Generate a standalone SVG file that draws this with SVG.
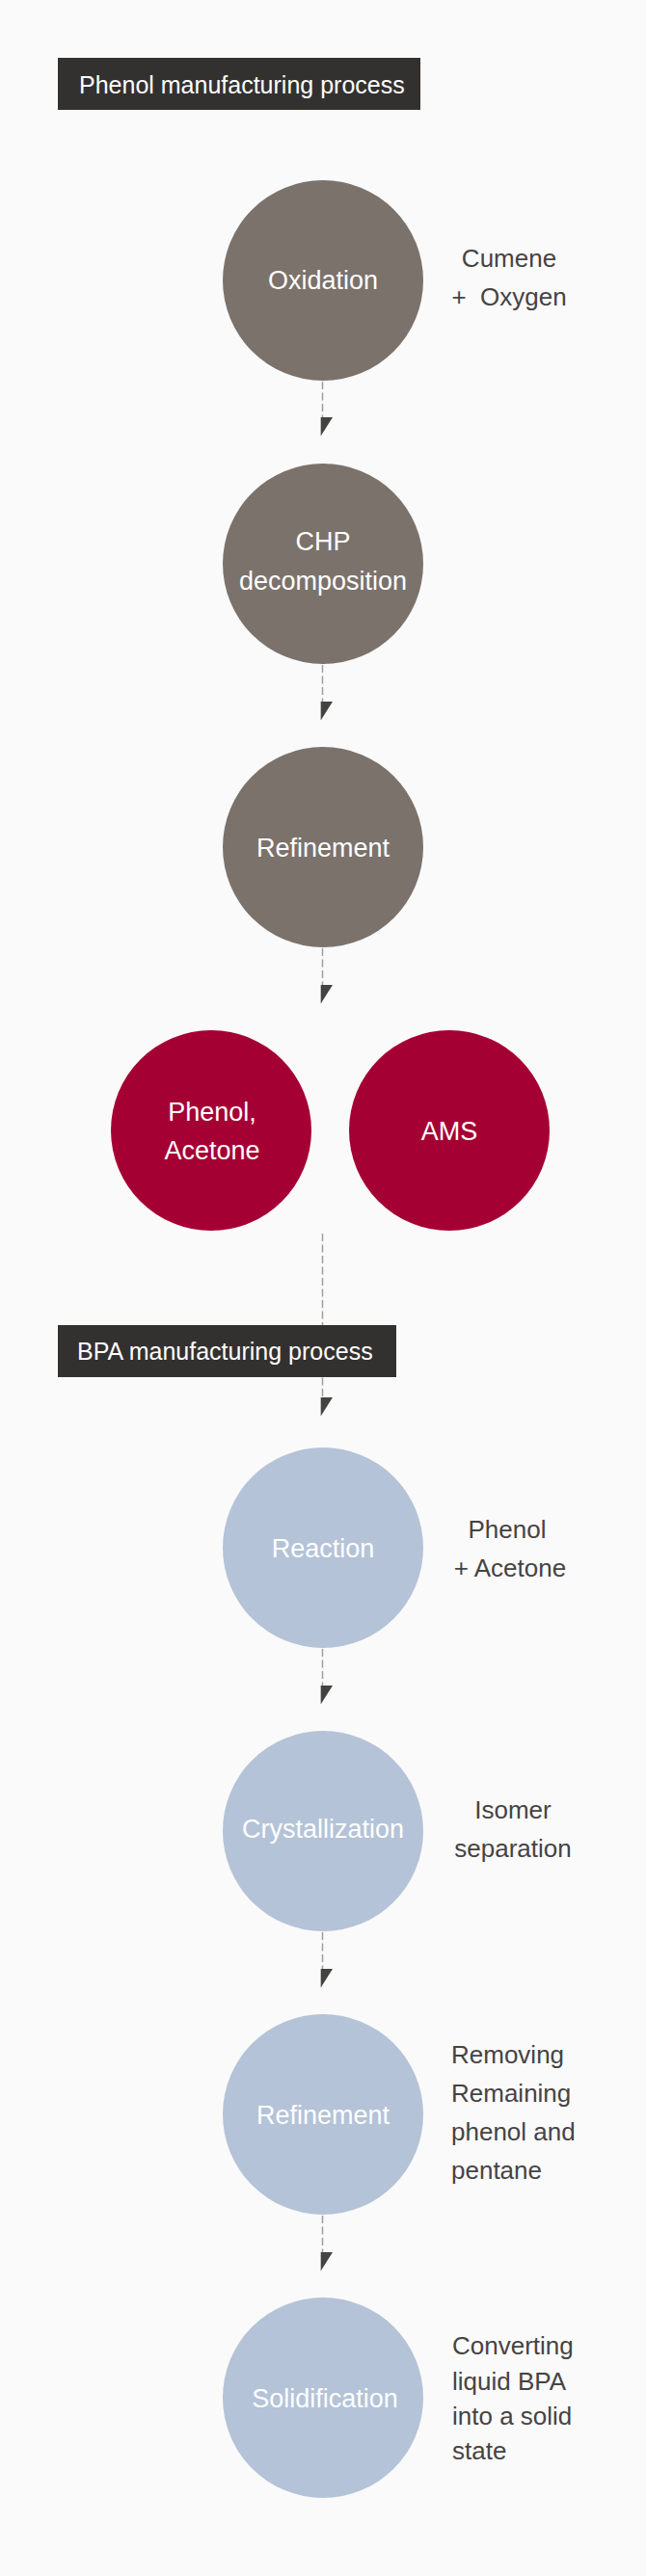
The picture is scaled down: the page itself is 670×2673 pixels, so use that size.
<svg xmlns="http://www.w3.org/2000/svg" width="670" height="2673" viewBox="0 0 670 2673">
<style>
.bg{fill:#fafafa}
.hdr{fill:#333130}
.hdrt{font-family:"Liberation Sans",Arial,sans-serif;font-size:25px;fill:#ffffff}
.gray{fill:#7b726c}
.red{fill:#a50034}
.blue{fill:#b4c3d7}
.ct{font-family:"Liberation Sans",Arial,sans-serif;font-size:27px;fill:#ffffff;text-anchor:middle}
.lbl{font-family:"Liberation Sans",Arial,sans-serif;font-size:26px;fill:#464343}
.mid{text-anchor:middle}
.dash{stroke:#a39c9a;stroke-width:1.5;stroke-dasharray:8 3.5;fill:none}
.ah{fill:#454342}
</style>
<defs>
<path id="ah" d="M0,0 L12.3,0 L0,19.5 Z"/>
</defs>
<rect class="bg" x="0" y="0" width="670" height="2673"/>
<g id="connectors">
<line class="dash" x1="334.5" y1="396" x2="334.5" y2="433"/>
<use href="#ah" class="ah" x="332.7" y="433"/>
<line class="dash" x1="334.5" y1="690" x2="334.5" y2="728"/>
<use href="#ah" class="ah" x="332.7" y="728"/>
<line class="dash" x1="334.5" y1="984" x2="334.5" y2="1022"/>
<use href="#ah" class="ah" x="332.7" y="1022"/>
<line class="dash" x1="334.5" y1="1280" x2="334.5" y2="1450"/>
<use href="#ah" class="ah" x="332.7" y="1450"/>
<line class="dash" x1="334.5" y1="1711" x2="334.5" y2="1749"/>
<use href="#ah" class="ah" x="332.7" y="1749"/>
<line class="dash" x1="334.5" y1="2005" x2="334.5" y2="2043"/>
<use href="#ah" class="ah" x="332.7" y="2043"/>
<line class="dash" x1="334.5" y1="2299" x2="334.5" y2="2337"/>
<use href="#ah" class="ah" x="332.7" y="2337"/>
</g>
<g id="header-phenol">
<rect class="hdr" x="60" y="60" width="376" height="54"/>
<text class="hdrt" x="82" y="97">Phenol manufacturing process</text>
</g>
<g id="node-oxidation">
<circle class="gray" cx="335" cy="291" r="104"/>
<text class="ct" x="335" y="300">Oxidation</text>
</g>
<g id="label-oxidation">
<text class="lbl mid" x="528" y="277">Cumene</text>
<text class="lbl mid" x="528" y="317" xml:space="preserve">+  Oxygen</text>
</g>
<g id="node-chp">
<circle class="gray" cx="335" cy="585" r="104"/>
<text class="ct" x="335" y="571">CHP</text>
<text class="ct" x="335" y="612">decomposition</text>
</g>
<g id="node-refinement1">
<circle class="gray" cx="335" cy="879" r="104"/>
<text class="ct" x="335" y="889">Refinement</text>
</g>
<g id="node-phenol-acetone">
<circle class="red" cx="219" cy="1173" r="104"/>
<text class="ct" x="220" y="1163">Phenol,</text>
<text class="ct" x="220" y="1203">Acetone</text>
</g>
<g id="node-ams">
<circle class="red" cx="466" cy="1173" r="104"/>
<text class="ct" x="466" y="1183">AMS</text>
</g>
<g id="header-bpa">
<rect class="hdr" x="60" y="1375" width="351" height="54"/>
<text class="hdrt" x="80" y="1411">BPA manufacturing process</text>
</g>
<g id="node-reaction">
<circle class="blue" cx="335" cy="1606" r="104"/>
<text class="ct" x="335" y="1616">Reaction</text>
</g>
<g id="label-reaction">
<text class="lbl mid" x="526" y="1596">Phenol</text>
<text class="lbl mid" x="529" y="1636">+ Acetone</text>
</g>
<g id="node-crystallization">
<circle class="blue" cx="335" cy="1900" r="104"/>
<text class="ct" x="335" y="1907">Crystallization</text>
</g>
<g id="label-crystallization">
<text class="lbl mid" x="532" y="1887">Isomer</text>
<text class="lbl mid" x="532" y="1927">separation</text>
</g>
<g id="node-refinement2">
<circle class="blue" cx="335" cy="2194" r="104"/>
<text class="ct" x="335" y="2204">Refinement</text>
</g>
<g id="label-refinement2">
<text class="lbl" x="468" y="2141">Removing</text>
<text class="lbl" x="468" y="2181">Remaining</text>
<text class="lbl" x="468" y="2221">phenol and</text>
<text class="lbl" x="468" y="2261">pentane</text>
</g>
<g id="node-solidification">
<circle class="blue" cx="335" cy="2488" r="104"/>
<text class="ct" x="337" y="2498">Solidification</text>
</g>
<g id="label-solidification">
<text class="lbl" x="469" y="2443">Converting</text>
<text class="lbl" x="469" y="2480">liquid BPA</text>
<text class="lbl" x="469" y="2516">into a solid</text>
<text class="lbl" x="469" y="2552">state</text>
</g>
</svg>
